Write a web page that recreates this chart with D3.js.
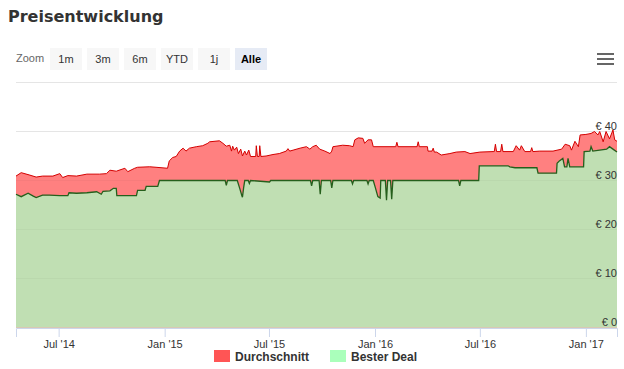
<!DOCTYPE html>
<html>
<head>
<meta charset="utf-8">
<script src="https://cdn.jsdelivr.net/npm/d3@7"></script>
<style>
  html, body { margin: 0; padding: 0; background: #fff; }
  svg { display: block; font-family: "Liberation Sans", Arial, sans-serif; }
</style>
</head>
<body>
<div id="chart"></div>
<script>
'use strict';

// series names (legend)
var seriesNames = ['Durchschnitt', 'Bester Deal'];

// range selector buttons
var zoomButtons = ['1m', '3m', '6m', 'YTD', '1j', 'Alle'];

// y axis ticks (€)
var yTicks = [0, 10, 20, 30, 40, 50];

// Durchschnitt (average price)
var durchschnitt = [
  ['2014-04-18', 30.9], ['2014-04-27', 31.6], ['2014-05-12', 31.1], ['2014-05-23', 30.7],
  ['2014-06-03', 30.9], ['2014-06-21', 30.9], ['2014-07-03', 31.4], ['2014-07-08', 30.6],
  ['2014-07-17', 31.0], ['2014-08-01', 30.9], ['2014-08-19', 31.3], ['2014-09-10', 31.3],
  ['2014-09-22', 31.4], ['2014-09-28', 32.1], ['2014-10-09', 31.9], ['2014-10-24', 32.5],
  ['2014-10-29', 31.8], ['2014-11-10', 32.5], ['2014-11-15', 32.7], ['2014-12-06', 32.8],
  ['2014-12-17', 32.7], ['2015-01-06', 32.5], ['2015-01-09', 34.0], ['2015-01-15', 34.7],
  ['2015-01-21', 34.9], ['2015-01-27', 36.0], ['2015-02-02', 36.6], ['2015-02-07', 36.0],
  ['2015-02-13', 36.6], ['2015-02-25', 36.9], ['2015-03-08', 37.1], ['2015-03-17', 37.6],
  ['2015-03-20', 37.9], ['2015-04-06', 38.1], ['2015-04-12', 37.6], ['2015-04-18', 37.0],
  ['2015-04-24', 37.2], ['2015-04-27', 36.0], ['2015-04-29', 37.0], ['2015-05-02', 36.2],
  ['2015-05-06', 36.8], ['2015-05-09', 35.5], ['2015-05-13', 36.4], ['2015-05-16', 35.0],
  ['2015-05-20', 36.0], ['2015-05-23', 35.2], ['2015-05-27', 36.2], ['2015-05-30', 34.9],
  ['2015-06-08', 34.9], ['2015-06-09', 37.1], ['2015-06-11', 34.9], ['2015-06-14', 34.9],
  ['2015-06-15', 37.1], ['2015-06-17', 34.9], ['2015-06-26', 35.0], ['2015-07-08', 35.3],
  ['2015-07-19', 35.5], ['2015-07-31', 36.0], ['2015-08-03', 36.5], ['2015-08-06', 36.0],
  ['2015-08-12', 36.2], ['2015-08-24', 36.6], ['2015-09-04', 36.9], ['2015-09-10', 36.4],
  ['2015-09-15', 36.9], ['2015-09-21', 37.2], ['2015-09-27', 36.4], ['2015-10-06', 36.0],
  ['2015-10-15', 35.5], ['2015-10-18', 36.0], ['2015-10-20', 36.9], ['2015-11-06', 37.2],
  ['2015-11-18', 37.1], ['2015-11-24', 36.9], ['2015-11-27', 38.3], ['2015-12-03', 38.7],
  ['2015-12-11', 38.6], ['2015-12-14', 37.6], ['2015-12-20', 38.3], ['2015-12-26', 38.3],
  ['2015-12-29', 36.9], ['2016-02-06', 36.9], ['2016-02-08', 37.8], ['2016-02-10', 36.9],
  ['2016-03-14', 36.9], ['2016-03-16', 37.9], ['2016-03-18', 36.9], ['2016-04-01', 36.9],
  ['2016-04-02', 36.0], ['2016-04-09', 36.0], ['2016-04-11', 36.6], ['2016-04-13', 35.8],
  ['2016-04-17', 35.8], ['2016-04-25', 35.2], ['2016-05-10', 35.5], ['2016-05-21', 35.8],
  ['2016-06-05', 35.9], ['2016-06-14', 35.5], ['2016-07-01', 35.8], ['2016-07-24', 35.9],
  ['2016-07-26', 35.9], ['2016-07-28', 37.4], ['2016-07-30', 35.9], ['2016-08-06', 35.9],
  ['2016-08-08', 37.4], ['2016-08-10', 35.9], ['2016-08-28', 35.9], ['2016-09-02', 37.1],
  ['2016-09-08', 36.2], ['2016-09-11', 37.1], ['2016-09-17', 35.9], ['2016-09-27', 35.9],
  ['2016-09-29', 36.7], ['2016-10-01', 35.9], ['2016-10-13', 36.0], ['2016-11-05', 36.0],
  ['2016-11-20', 36.4], ['2016-11-26', 37.4], ['2016-12-04', 37.1], ['2016-12-07', 36.2],
  ['2016-12-13', 38.0], ['2016-12-19', 36.9], ['2016-12-22', 39.3], ['2017-01-01', 39.4],
  ['2017-01-10', 39.6], ['2017-01-16', 40.0], ['2017-01-22', 39.3], ['2017-01-25', 40.0],
  ['2017-01-31', 37.9], ['2017-02-05', 40.0], ['2017-02-11', 38.5], ['2017-02-17', 40.3],
  ['2017-02-20', 38.3], ['2017-02-24', 38.0]
];

// Bester Deal (best price)
var besterDeal = [
  ['2014-04-18', 27.2], ['2014-04-27', 26.7], ['2014-05-09', 27.4], ['2014-05-18', 26.8],
  ['2014-05-23', 26.5], ['2014-06-03', 27.0], ['2014-06-15', 27.0], ['2014-07-03', 26.9],
  ['2014-07-17', 26.9], ['2014-07-19', 27.5], ['2014-08-01', 27.4], ['2014-08-19', 27.5],
  ['2014-09-05', 27.7], ['2014-09-13', 27.2], ['2014-09-16', 27.8], ['2014-09-28', 27.9],
  ['2014-10-04', 28.4], ['2014-10-09', 28.4], ['2014-10-10', 26.9], ['2014-11-13', 26.9],
  ['2014-11-15', 28.0], ['2014-11-28', 28.0], ['2014-11-30', 28.8], ['2014-12-20', 28.8],
  ['2014-12-23', 30.0], ['2015-04-16', 30.0], ['2015-04-18', 29.0], ['2015-04-20', 30.0],
  ['2015-05-07', 30.0], ['2015-05-11', 28.5], ['2015-05-15', 26.9], ['2015-05-16', 26.6],
  ['2015-05-18', 28.5], ['2015-05-20', 30.0], ['2015-05-26', 30.0], ['2015-05-28', 29.4],
  ['2015-05-30', 30.0], ['2015-07-02', 29.7], ['2015-07-04', 30.0], ['2015-09-11', 30.0],
  ['2015-09-13', 28.9], ['2015-09-15', 30.0], ['2015-09-26', 30.0], ['2015-09-28', 27.2],
  ['2015-09-30', 30.0], ['2015-10-16', 30.0], ['2015-10-18', 28.5], ['2015-10-20', 30.0],
  ['2015-11-21', 30.0], ['2015-11-23', 29.3], ['2015-11-25', 30.0], ['2015-12-18', 30.0],
  ['2015-12-20', 29.3], ['2015-12-22', 30.0], ['2015-12-29', 30.0], ['2016-01-01', 28.8],
  ['2016-01-06', 26.7], ['2016-01-10', 26.4], ['2016-01-11', 30.0], ['2016-01-19', 30.0],
  ['2016-01-21', 26.0], ['2016-01-23', 30.0], ['2016-01-28', 30.0], ['2016-01-30', 26.2],
  ['2016-02-01', 30.0], ['2016-05-25', 30.0], ['2016-05-27', 28.9], ['2016-05-29', 30.0],
  ['2016-06-29', 30.0], ['2016-06-30', 33.0], ['2016-08-19', 33.0], ['2016-08-22', 32.8],
  ['2016-08-31', 32.6], ['2016-10-08', 32.6], ['2016-10-10', 31.5], ['2016-11-11', 31.5],
  ['2016-11-12', 33.5], ['2016-11-16', 34.0], ['2016-11-22', 34.5], ['2016-11-25', 32.8],
  ['2016-11-29', 32.8], ['2016-12-01', 34.5], ['2016-12-04', 32.8], ['2016-12-28', 32.8],
  ['2016-12-29', 35.9], ['2017-01-08', 36.0], ['2017-01-10', 36.9], ['2017-01-13', 36.0],
  ['2017-01-25', 36.2], ['2017-02-06', 36.4], ['2017-02-11', 36.9], ['2017-02-17', 36.4],
  ['2017-02-24', 35.8]
];

var width = 624,
    height = 369,
    plot = { left: 16, right: 617, top: 82.5, bottom: 327.5 };

var parse = d3.timeParse('%Y-%m-%d');
var avg = durchschnitt.map(function (d) { return { date: parse(d[0]), value: d[1] }; });
var best = besterDeal.map(function (d) { return { date: parse(d[0]), value: d[1] }; });

var svg = d3.select('#chart').append('svg')
    .attr('width', width)
    .attr('height', height);

// title
svg.append('text')
    .attr('x', 8)
    .attr('y', 22)
    .attr('font-family', '"DejaVu Sans", sans-serif')
    .attr('font-size', 16)
    .attr('font-weight', 'bold')
    .attr('fill', '#333')
    .text('Preisentwicklung');

// range selector
svg.append('text')
    .attr('x', 16)
    .attr('y', 62)
    .attr('font-size', 11)
    .attr('fill', '#666')
    .text('Zoom');

var btn = svg.selectAll('g.btn')
    .data(zoomButtons)
    .enter().append('g')
    .attr('class', 'btn')
    .attr('transform', function (d, i) { return 'translate(' + (50 + i * 37) + ',48)'; });

btn.append('rect')
    .attr('width', 32)
    .attr('height', 22)
    .attr('fill', function (d) { return d === 'Alle' ? '#e6ebf5' : '#f7f7f7'; });

btn.append('text')
    .attr('x', 16)
    .attr('y', 14.5)
    .attr('text-anchor', 'middle')
    .attr('font-size', 11)
    .attr('font-weight', function (d) { return d === 'Alle' ? 'bold' : 'normal'; })
    .attr('fill', function (d) { return d === 'Alle' ? '#000' : '#333'; })
    .text(function (d) { return d; });

// menu icon
svg.selectAll('line.menu')
    .data([54, 59, 64])
    .enter().append('line')
    .attr('class', 'menu')
    .attr('x1', 597).attr('x2', 614)
    .attr('y1', function (d) { return d; })
    .attr('y2', function (d) { return d; })
    .attr('stroke', '#666')
    .attr('stroke-width', 2);

// scales
var x = d3.scaleTime()
    .domain([avg[0].date, avg[avg.length - 1].date])
    .range([plot.left, plot.right]);

var y = d3.scaleLinear()
    .domain([0, 50])
    .range([plot.bottom, plot.top]);

// areas
var area = d3.area()
    .x(function (d) { return x(d.date); })
    .y0(y(0))
    .y1(function (d) { return y(d.value); });

var line = d3.line()
    .x(function (d) { return x(d.date); })
    .y(function (d) { return y(d.value); });

svg.append('path')
    .datum(avg)
    .attr('d', area)
    .attr('fill', '#ff8080');

svg.append('path')
    .datum(best)
    .attr('d', area)
    .attr('fill', '#c0dfb3');

// grid lines (drawn faintly over the fills)
svg.selectAll('line.grid')
    .data(yTicks)
    .enter().append('line')
    .attr('class', 'grid')
    .attr('x1', plot.left).attr('x2', plot.right)
    .attr('y1', function (d) { return y(d); })
    .attr('y2', function (d) { return y(d); })
    .attr('stroke', '#000')
    .attr('stroke-opacity', function (d) { return d >= 40 ? 0.1 : 0.03; });

svg.append('path')
    .datum(avg)
    .attr('d', line)
    .attr('fill', 'none')
    .attr('stroke', '#d40000')
    .attr('stroke-width', 1);

svg.append('path')
    .datum(best)
    .attr('d', line)
    .attr('fill', 'none')
    .attr('stroke', '#255f1c')
    .attr('stroke-width', 1.3);

// y labels, inside on the right
svg.selectAll('text.ylab')
    .data(yTicks.filter(function (d) { return d < 50; }))
    .enter().append('text')
    .attr('class', 'ylab')
    .attr('x', plot.right)
    .attr('y', function (d) { return y(d) - 2; })
    .attr('text-anchor', 'end')
    .attr('font-size', 11)
    .attr('fill', '#333')
    .text(function (d) { return '€ ' + d; });

// x axis
var xAxis = d3.axisBottom(x)
    .ticks(d3.timeMonth.every(6))
    .tickFormat(d3.timeFormat("%b '%y"))
    .tickSize(9)
    .tickPadding(3);

var gx = svg.append('g')
    .attr('transform', 'translate(0,' + (plot.bottom + 0.5) + ')')
    .call(xAxis);

gx.select('.domain').attr('stroke', '#ccd6eb');
gx.selectAll('.tick line').attr('stroke', '#ccd6eb');
gx.selectAll('.tick text')
    .attr('font-family', '"Liberation Sans", Arial, sans-serif')
    .attr('font-size', 11)
    .attr('fill', '#333');

// legend
var legendColors = ['#ff5555', '#aaffbb'];
var legend = svg.selectAll('g.legend')
    .data(seriesNames)
    .enter().append('g')
    .attr('class', 'legend')
    .attr('transform', function (d, i) { return 'translate(' + (214 + i * 116) + ',350)'; });

legend.append('rect')
    .attr('width', 16)
    .attr('height', 12)
    .attr('fill', function (d, i) { return legendColors[i]; });

legend.append('text')
    .attr('x', 21)
    .attr('y', 11)
    .attr('font-size', 12)
    .attr('font-weight', 'bold')
    .attr('fill', '#333')
    .text(function (d) { return d; });
</script>
</body>
</html>
